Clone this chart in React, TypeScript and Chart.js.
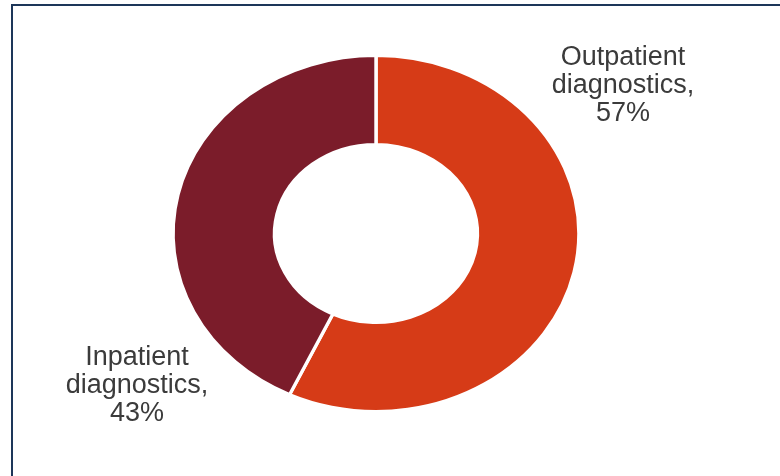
import React, { useEffect, useRef } from "react";
import { Chart, registerables } from "chart.js";

Chart.register(...registerables);

const categories = ["Outpatient diagnostics", "Inpatient diagnostics"];
const shares = [57, 43];
const sliceColors = ["#D63B17", "#7B1C2A"];
const labelLines = [
  ["Outpatient", "diagnostics,", "57%"],
  ["Inpatient", "diagnostics,", "43%"],
];

// layout constants (not data)
const STRETCH_X = 1.14;
const LABEL_POS = [
  { x: 623, y: 65 },
  { x: 137, y: 365 },
];
const LINE_H = 28;

const stretchPlugin = {
  id: "stretchX",
  beforeDatasetsDraw(chart: any) {
    const { ctx, chartArea } = chart;
    const cx = (chartArea.left + chartArea.right) / 2;
    ctx.save();
    ctx.translate(cx, 0);
    ctx.scale(STRETCH_X, 1);
    ctx.translate(-cx, 0);
  },
  afterDatasetsDraw(chart: any) {
    chart.ctx.restore();
  },
};

const labelPlugin = {
  id: "sliceLabels",
  afterDraw(chart: any) {
    const { ctx } = chart;
    ctx.save();
    ctx.fillStyle = "#3b3b3b";
    ctx.font = "27px 'Liberation Sans', Arial, sans-serif";
    ctx.textAlign = "center";
    ctx.textBaseline = "alphabetic";
    labelLines.forEach((lines, i) => {
      const p = LABEL_POS[i];
      lines.forEach((t, j) => ctx.fillText(t, p.x, p.y + j * LINE_H));
    });
    ctx.restore();
  },
};

export default function App() {
  const ref = useRef<HTMLCanvasElement>(null);
  useEffect(() => {
    if (!ref.current) return;
    const chart = new Chart(ref.current, {
      type: "doughnut",
      data: {
        labels: categories,
        datasets: [
          {
            data: shares,
            backgroundColor: sliceColors,
            borderColor: "#ffffff",
            borderWidth: 3,
          },
        ],
      },
      options: {
        responsive: false,
        animation: false,
        radius: 178,
        cutout: "50%",
        layout: { padding: { left: 0, right: 28, top: 0, bottom: 9 } },
        plugins: {
          legend: { display: false },
          tooltip: { enabled: false },
        },
      } as any,
      plugins: [stretchPlugin, labelPlugin],
    });
    return () => chart.destroy();
  }, []);

  return (
    <div
      style={{
        position: "fixed",
        left: 0,
        top: 0,
        width: 780,
        height: 476,
        background: "#ffffff",
        overflow: "hidden",
      }}
    >
      <div
        style={{
          position: "absolute",
          left: 11,
          top: 4,
          right: -10,
          bottom: -10,
          borderTop: "2px solid #1d3659",
          borderLeft: "2px solid #1d3659",
        }}
      />
      <canvas
        ref={ref}
        width={780}
        height={476}
        style={{ position: "absolute", left: 0, top: 0, width: 780, height: 476 }}
      />
    </div>
  );
}
